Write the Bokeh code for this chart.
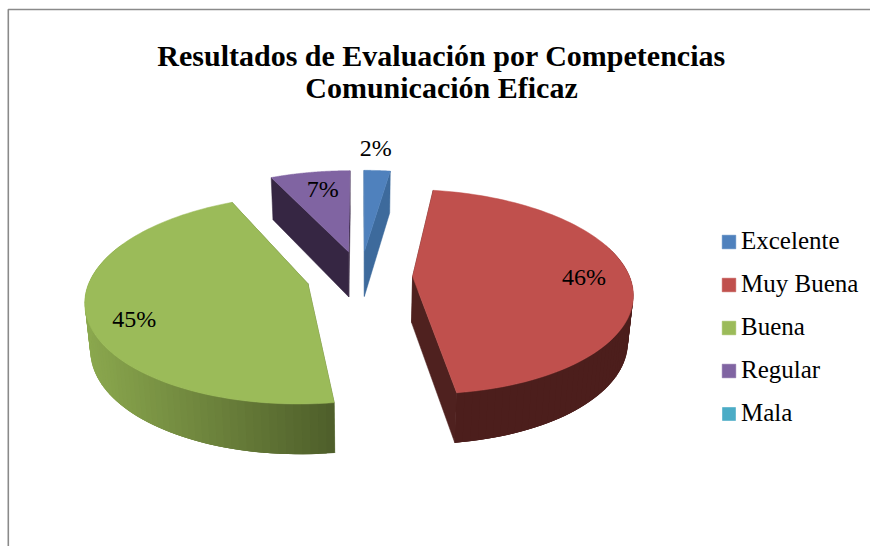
from bokeh.plotting import figure
from bokeh.models import Legend, LegendItem
from bokeh.embed import file_html
from bokeh.resources import INLINE
from bokeh.core.properties import value
import numpy as np

# ---- data ----
categories = ["Excelente", "Muy Buena", "Buena", "Regular", "Mala"]
percentages = [2.3, 45.5, 45.2, 7.0, 0.0]
title_lines = ["Resultados de Evaluación por Competencias", "Comunicación Eficaz"]

# ---- style ----
top_colors = ["#4F81BD", "#C0504D", "#9BBB59", "#8064A2", "#4BACC6"]
radial_colors = ["#3D6A9C", "#4F211F", "#5A6E33", "#362643", "#2F7A8C"]
wall_left = [(61, 106, 156), (76, 30, 28), (139, 168, 78), (54, 38, 67), (47, 122, 140)]
wall_right = [(61, 106, 156), (94, 39, 36), (78, 94, 42), (54, 38, 67), (47, 122, 140)]
explode = [0.262, 0.24, 0.25, 0.262, 0.0]
label_r = [1.33, 0.79, 0.79, 0.78, 0.0]
label_nudge_x = [-5, 0, 0, 5, 0]
label_nudge_y = [0, 0, 11, 1, 0]

# ---- projection (page pixel space) ----
CX, CY, A, B, K = 360.0, 276.0, 217.0, 100.0, 0.149
DEPTH, K_D, SHRINK = 46.0, 0.08, 0.98


def project(a, b):
    s = 1.0 / (1.0 + K * b)
    return CX + A * a * s, CY - B * b * s


def lower(x, b):
    return CX + (x - CX) * SHRINK, DEPTH / (1.0 + K_D * b)


p = figure(width=870, height=546, x_range=(0, 870), y_range=(546, 0),
           output_backend="svg", toolbar_location=None, min_border=0,
           outline_line_color=None, background_fill_color="white", border_fill_color="white")
p.axis.visible = False
p.xgrid.visible = False
p.ygrid.visible = False

# chart-area border (only left and top lie inside the crop)
p.line(x=[7.8, 7.8, 870], y=[546, 9, 9], line_color="#8a8a8a", line_width=1.6)

total = sum(percentages)
cum = np.cumsum([0] + percentages) / total * 360.0
legend_items = []
label_x, label_y, label_t = [], [], []

for i, (name, pct) in enumerate(zip(categories, percentages)):
    if pct == 0:
        zx, zy = project(0.0, 0.0)
        r = p.patch(x=[zx], y=[zy], fill_color=top_colors[i], line_color=None)
        legend_items.append(LegendItem(label=name, renderers=[r]))
        continue
    t0, t1 = cum[i], cum[i + 1]
    mid = np.radians((t0 + t1) / 2)
    ea, eb = explode[i] * np.sin(mid), explode[i] * np.cos(mid)
    th = np.radians(np.linspace(t0, t1, 90))
    ra, rb = ea + np.sin(th), eb + np.cos(th)
    rx, ry = project(ra, rb)
    ax, ay = project(ea, eb)

    # radial faces
    for j in (0, -1):
        x_l0, d0 = lower(ax, eb)
        x_l1, d1 = lower(rx[j], rb[j])
        p.patch(x=[ax, rx[j], x_l1, x_l0], y=[ay, ry[j], ry[j] + d1, ay + d0],
                fill_color=radial_colors[i], line_color=radial_colors[i], line_width=0.5)

    # outer wall, as overlapping shaded strips
    xl, dl = lower(rx, rb)
    yl = ry + dl
    xs, ys, cols = [], [], []
    xmin, xmax = rx.min(), rx.max()
    for k in range(len(rx) - 1):
        if rb[k] > eb + 0.35:
            continue
        e = min(k + 3, len(rx) - 1)
        f = ((rx[k] + rx[k + 1]) / 2 - xmin) / (xmax - xmin)
        if i == 1:  # red wall darkens quickly away from its front corner
            f = 1.0 - min(1.0, f / 0.12)
        c = tuple(int(round(wall_left[i][n] + (wall_right[i][n] - wall_left[i][n]) * f)) for n in range(3))
        xs.append([rx[k], rx[e], xl[e], xl[k]])
        ys.append([ry[k], ry[e], yl[e], yl[k]])
        cols.append("#%02x%02x%02x" % c)
    if xs:
        p.patches(xs=xs, ys=ys, fill_color=cols, line_color=None)

    # top face
    r = p.patch(x=[ax] + list(rx), y=[ay] + list(ry), fill_color=top_colors[i],
                line_color=top_colors[i], line_width=0.5)
    legend_items.append(LegendItem(label=name, renderers=[r]))

    lx, ly = project(ea + label_r[i] * np.sin(mid), eb + label_r[i] * np.cos(mid))
    label_x.append(lx + label_nudge_x[i])
    label_y.append(ly + label_nudge_y[i])
    label_t.append(f"{pct:.0f}%")

p.text(x=label_x, y=label_y, text=label_t, text_font=value("Liberation Serif"),
       text_font_size="24px", text_color="black", text_align="center", text_baseline="middle")

# title
p.text(x=[441, 441], y=[55, 87], text=title_lines, text_font=value("Liberation Serif"),
       text_font_style="bold", text_font_size="30px", text_color="black",
       text_align="center", text_baseline="middle")

legend = Legend(items=legend_items, location=(720, 119), orientation="vertical",
                glyph_width=17, glyph_height=17, label_standoff=4, spacing=15,
                padding=0, margin=0, border_line_color=None, background_fill_alpha=0,
                label_text_font="Liberation Serif", label_text_font_size="25px",
                label_text_color="black", label_height=26)
p.add_layout(legend, "center")

open("out.html", "w").write(file_html(p, INLINE))
